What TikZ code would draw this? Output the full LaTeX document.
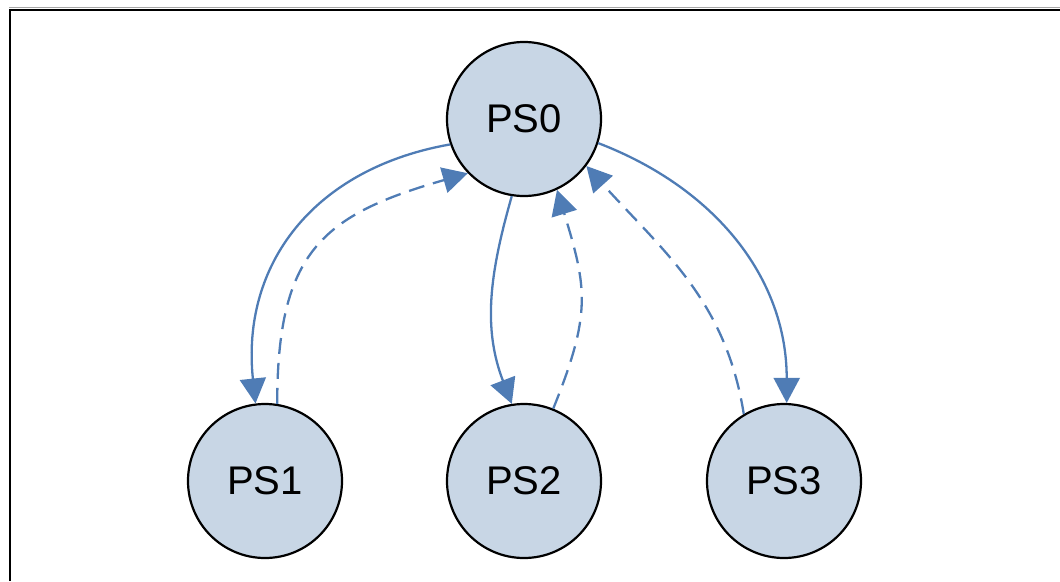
\documentclass[tikz,border=0pt]{standalone}
\usepackage{fontspec}
\setmainfont{Liberation Sans}
\usetikzlibrary{arrows.meta}
\definecolor{nodefill}{RGB}{200,214,229}
\definecolor{edgeblue}{RGB}{79,124,181}
\tikzset{
  psnode/.style={circle, draw=black, line width=2.2pt, fill=nodefill, minimum size=154pt, inner sep=0pt,
    font=\fontsize{40}{48}\selectfont},
  callarrow/.style={draw=edgeblue, line width=2.3pt, -{Triangle[length=25pt,width=26pt]}},
  retarrow/.style={callarrow, dash pattern=on 16pt off 9pt},
}
\begin{document}
\begin{tikzpicture}[x=1pt,y=-1pt]
\useasboundingbox (0,0) rectangle (1060,581);
\draw[gray!70, line width=1pt] (9,7.8) -- (1060,7.8);
\draw[black, line width=1.8pt] (9.8,581) -- (9.8,9.6) -- (1060,9.6);
\node[psnode] (ps0) at (524,119) {PS0};
\node[psnode] (ps1) at (265,481) {PS1};
\node[psnode] (ps2) at (524,481) {PS2};
\node[psnode] (ps3) at (784,481) {PS3};
\draw[callarrow] (ps0.199) to[out=190,in=96,looseness=1.1] (ps1.97);
\draw[retarrow] (ps1.81) to[out=90,in=196,looseness=1.3] (ps0.224);
\draw[callarrow] (ps0.261) to[out=254,in=111,looseness=1] (ps2.99);
\draw[retarrow] (ps2.68) to[out=68,in=287,looseness=1.2] (ps0.295);
\draw[callarrow] (ps0.342) to[out=339,in=90,looseness=1] (ps3.88);
\draw[retarrow] (ps3.121) to[out=99,in=312,looseness=1] (ps0.323);
\end{tikzpicture}
\end{document}
